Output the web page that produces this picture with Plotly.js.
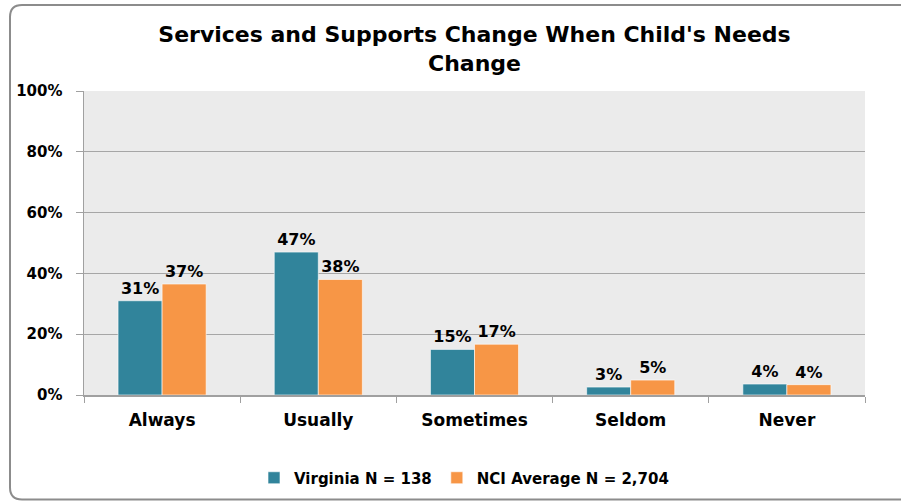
<!DOCTYPE html>
<html>
<head>
<meta charset="utf-8">
<script src="https://cdn.plot.ly/plotly-3.0.1.min.js"></script>
<style>
html,body{margin:0;padding:0;background:#fff;}
#chart{width:901px;height:501px;}
</style>
</head>
<body>
<div id="chart"></div>
<script>
const categories = ["Always", "Usually", "Sometimes", "Seldom", "Never"];
const virginiaValues = [31, 47, 15, 2.6, 3.6];
const virginiaLabels = ["31%", "47%", "15%", "3%", "4%"];
const nciValues = [36.5, 38, 16.7, 4.9, 3.4];
const nciLabels = ["37%", "38%", "17%", "5%", "4%"];
const seriesNames = ["Virginia N = 138", "NCI Average N = 2,704"];
const yTicks = [0, 20, 40, 60, 80, 100];
const yTickLabels = ["0%", "20%", "40%", "60%", "80%", "100%"];

const FONT = "DejaVu Sans, Verdana, sans-serif";
const W = 901, H = 501, ML = 84, MR = 36, MT = 91, MB = 106;
const PW = W - ML - MR, PH = H - MT - MB;
function px(x){ return (x - ML) / PW; }
function py(y){ return (H - MB - y) / PH; }

const xl = px(10), xr = px(910), yt = py(5), yb = py(499.5);
const rx = 12 / PW, ry = 12 / PH;
const borderPath = `M ${xr},${yt} L ${xl+rx},${yt} Q ${xl},${yt} ${xl},${yt-ry} L ${xl},${yb+ry} Q ${xl},${yb} ${xl+rx},${yb} L ${xr},${yb}`;

const traces = [
  {
    type: "bar", name: seriesNames[0], x: categories, y: virginiaValues,
    text: virginiaLabels, textposition: "outside", cliponaxis: false,
    textfont: {family: FONT, size: 16, color: "#000", weight: "bold"},
    marker: {color: "#31849B", line: {color: "rgba(255,255,255,0.6)", width: 1}},
    hoverinfo: "none"
  },
  {
    type: "bar", name: seriesNames[1], x: categories, y: nciValues,
    text: nciLabels, textposition: "outside", cliponaxis: false,
    textfont: {family: FONT, size: 16, color: "#000", weight: "bold"},
    marker: {color: "#F79646", line: {color: "rgba(255,255,255,0.6)", width: 1}},
    hoverinfo: "none"
  }
];

const layout = {
  width: W, height: H,
  margin: {l: ML, r: MR, t: MT, b: MB, pad: 0, autoexpand: false},
  paper_bgcolor: "#ffffff",
  plot_bgcolor: "#EBEBEB",
  font: {family: FONT, color: "#000", size: 16},
  title: {
    text: "<b>Services and Supports Change When Child's Needs<br>Change</b>",
    font: {family: FONT, size: 22, color: "#000"},
    x: 0.5, xanchor: "center", xref: "paper",
    y: 1 - 42 / H, yanchor: "top", yref: "container",
    automargin: false
  },
  barmode: "group",
  bargap: 0.436,
  bargroupgap: 0,
  xaxis: {
    type: "category",
    automargin: false,
    showgrid: false,
    showline: true, linecolor: "#A0A0A0", linewidth: 1.5,
    ticks: "outside", tickson: "boundaries", ticklen: 6, tickcolor: "#A0A0A0",
    tickfont: {family: FONT, size: 17, color: "#000", weight: "bold"},
    ticklabelstandoff: 9,
    fixedrange: true
  },
  yaxis: {
    range: [0, 100],
    automargin: false,
    tickvals: yTicks, ticktext: yTickLabels,
    showgrid: true, gridcolor: "#A6A6A6", gridwidth: 1,
    showline: true, linecolor: "#A0A0A0", linewidth: 1.5,
    ticks: "outside", ticklen: 7, tickcolor: "#A0A0A0",
    tickfont: {family: FONT, size: 15, color: "#000", weight: "bold"},
    ticklabelstandoff: 10,
    zeroline: false,
    fixedrange: true
  },
  legend: {
    orientation: "h", x: px(464), xanchor: "center", y: py(478), yanchor: "middle",
    font: {family: FONT, size: 15, color: "#000", weight: "bold"},
    itemwidth: 30, traceorder: "normal", tracegroupgap: 0
  },
  shapes: [{
    type: "path", xref: "paper", yref: "paper", path: borderPath,
    line: {color: "#8C8C8C", width: 2}, layer: "above"
  }],
  showlegend: true
};

Plotly.newPlot("chart", traces, layout, {displayModeBar: false, staticPlot: true});
</script>
</body>
</html>
